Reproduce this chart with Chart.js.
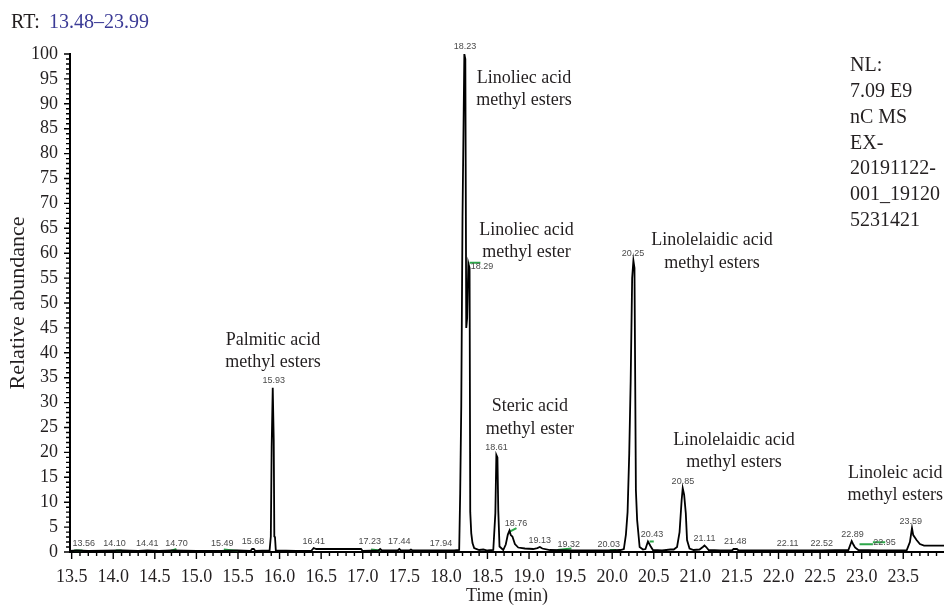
<!DOCTYPE html>
<html>
<head>
<meta charset="utf-8">
<script src="https://cdn.jsdelivr.net/npm/chart.js@4.4.0/dist/chart.umd.min.js"></script>
<style>
  html, body { margin: 0; padding: 0; background: #fff; }
  #wrap { width: 944px; height: 605px; }
</style>
</head>
<body>
<div id="wrap"><canvas id="chromChart" width="944" height="605"></canvas></div>
<script>
// chromatogram trace: retention time (min) / relative abundance (%)
const retentionTimes = [
  13.48, 13.56, 13.70, 14.10, 14.30, 14.41, 14.55, 14.70, 15.00, 15.30, 15.49, 15.65, 15.67, 15.69, 15.71,
  15.88, 15.895, 15.905, 15.918, 15.93, 15.937, 15.945, 15.955,
  16.20, 16.38, 16.41, 16.44, 16.70, 16.98, 17.00, 17.19, 17.21, 17.23, 17.42, 17.44, 17.46, 17.56, 17.58, 17.60,
  17.94, 18.10, 18.160, 18.172, 18.185, 18.200, 18.222, 18.234, 18.245, 18.256, 18.270, 18.285, 18.293, 18.305,
  18.320, 18.340, 18.40, 18.45, 18.50, 18.57, 18.595, 18.607, 18.620, 18.630, 18.645,
  18.69, 18.72, 18.745, 18.765, 18.78, 18.80, 18.83, 18.87, 18.95, 19.05, 19.10, 19.13, 19.16, 19.25, 19.50,
  20.00, 20.10, 20.14, 20.165, 20.185, 20.205, 20.222, 20.240, 20.255, 20.268, 20.285, 20.30, 20.33, 20.37,
  20.40, 20.43, 20.46, 20.49, 20.60, 20.70, 20.74, 20.78, 20.81, 20.835, 20.848, 20.865, 20.885, 20.90, 20.93,
  20.98, 21.05, 21.09, 21.11, 21.13, 21.16, 21.30, 21.44, 21.46, 21.50, 21.52, 21.80, 22.11, 22.52,
  22.84, 22.88, 22.90, 22.92, 22.96, 23.20, 23.54, 23.58, 23.605, 23.62, 23.66, 23.70, 23.75, 23.99
];
const abundance = [
  0.2, 0.3, 0.2, 0.3, 0.2, 0.3, 0.2, 0.3, 0.2, 0.2, 0.3, 0.2, 0.6, 0.6, 0.2,
  0.3, 3.1, 21, 33, 22.5, 3.1, 3.0, 0.3,
  0.2, 0.2, 0.8, 0.6, 0.6, 0.6, 0.2, 0.3, 0.6, 0.3, 0.3, 0.6, 0.3, 0.3, 0.5, 0.3,
  0.3, 0.3, 0.4, 11.8, 29.2, 67.3, 100, 99, 45, 47, 58, 57, 8, 3.8,
  1.8, 0.8, 0.4, 0.5, 0.3, 0.4, 7.8, 19.5, 19, 8.4, 1.1,
  0.4, 1.5, 3.5, 4.3, 3.4, 3.1, 1.6, 0.9, 0.7, 0.6, 0.8, 1.0, 0.7, 0.4, 0.3,
  0.3, 0.4, 0.6, 3.5, 8, 19.8, 34.2, 55, 58.5, 57, 12.4, 6.4, 1.0, 0.5,
  0.6, 2.1, 1.2, 0.4, 0.3, 0.5, 0.5, 1.0, 4.0, 10.4, 12.8, 11.5, 7.8, 2.4, 0.7,
  0.4, 0.5, 1.0, 1.3, 1.0, 0.4, 0.3, 0.3, 0.6, 0.6, 0.3, 0.3, 0.3, 0.3,
  0.4, 2.2, 1.5, 0.9, 0.4, 0.3, 0.3, 2.0, 4.8, 3.4, 2.4, 1.6, 1.3, 1.3
];

// green integration marks: start / end time and level at each end
const greenFrom = [13.53, 14.03, 14.69, 15.33, 17.10, 18.285, 18.768, 19.34, 19.97, 20.45, 22.974, 23.135];
const greenTo = [13.63, 14.10, 14.76, 15.50, 17.21, 18.415, 18.849, 19.51, 20.05, 20.50, 23.135, 23.283];
const greenFromLevel = [0.3, 0.3, 0.2, 0.5, 0.5, 58.1, 4.1, 0.4, 0.4, 2.1, 1.55, 1.95];
const greenToLevel = [0.3, 0.3, 0.6, 0.2, 0.3, 58.1, 4.8, 0.7, 0.4, 2.1, 1.55, 1.95];

const peakLabels = ['13.56', '14.10', '14.41', '14.70', '15.49', '15.68', '15.93', '16.41', '17.23', '17.44',
  '17.94', '18.23', '18.29', '18.61', '18.76', '19.13', '19.32', '20.03', '20.25', '20.43', '20.85', '21.11',
  '21.48', '22.11', '22.52', '22.89', '22.95', '23.59'];

const compoundNames = [
  ['Palmitic acid', 'methyl esters'],
  ['Linoliec acid', 'methyl esters'],
  ['Linoliec acid', 'methyl ester'],
  ['Steric acid', 'methyl ester'],
  ['Linolelaidic acid', 'methyl esters'],
  ['Linolelaidic acid', 'methyl esters'],
  ['Linoleic acid', 'methyl esters']
];

const xTickLabels = ['13.5', '14.0', '14.5', '15.0', '15.5', '16.0', '16.5', '17.0', '17.5', '18.0', '18.5',
  '19.0', '19.5', '20.0', '20.5', '21.0', '21.5', '22.0', '22.5', '23.0', '23.5'];
const yTickLabels = ['0', '5', '10', '15', '20', '25', '30', '35', '40', '45', '50', '55', '60', '65', '70',
  '75', '80', '85', '90', '95', '100'];

const rtRange = '13.48–23.99';
const nlInfo = ['NL:', '7.09 E9', 'nC MS', 'EX-', '20191122-', '001_19120', '5231421'];

const serif = '"Liberation Serif", "DejaVu Serif", serif';
const textDark = '#231f20';

// where the compound names sit (data coords of the first line's centre)
const noteSpots = [[15.92, 42.6], [18.94, 95.2], [18.97, 64.7], [19.01, 29.2], [21.20, 62.5], [21.465, 22.5], [23.404, 15.9]];
// sideways shift (px) for peak labels that are not centred on their peak
const labelShift = { '13.56': 7, '14.10': -7, '14.70': 5, '15.49': -15, '17.23': -12, '18.29': 12,
  '18.76': 7, '19.32': 13, '20.03': -6, '20.43': 4, '22.95': 27 };

function peakTop(rt) {
  let best = 0;
  retentionTimes.forEach((t, i) => {
    if (Math.abs(t - rt) <= 0.025 && abundance[i] > best) best = abundance[i];
  });
  return best;
}

const greenPoints = [];
greenFrom.forEach((t, i) => {
  greenPoints.push({ x: t, y: greenFromLevel[i] });
  greenPoints.push({ x: greenTo[i], y: greenToLevel[i] });
  greenPoints.push({ x: greenTo[i], y: null });
});

// tick marks: long at labelled ticks, short otherwise
const tickMarks = {
  id: 'tickMarks',
  afterDraw(chart) {
    const { ctx, scales: { x, y } } = chart;
    ctx.save();
    ctx.strokeStyle = '#000';
    ctx.lineWidth = 1.4;
    ctx.beginPath();
    x.ticks.forEach(t => {
      const px = x.getPixelForValue(t.value);
      const len = t.label ? 7 : 4;
      ctx.moveTo(px, x.top);
      ctx.lineTo(px, x.top + len);
    });
    y.ticks.forEach(t => {
      const py = y.getPixelForValue(t.value);
      const len = t.label ? 6 : 4;
      ctx.moveTo(y.right, py);
      ctx.lineTo(y.right - len, py);
    });
    ctx.stroke();
    ctx.restore();
  }
};

const chromNotes = {
  id: 'chromNotes',
  afterDatasetsDraw(chart) {
    const { ctx, scales: { x, y } } = chart;
    ctx.save();

    // RT range header
    ctx.font = '20px ' + serif;
    ctx.textAlign = 'left';
    ctx.textBaseline = 'alphabetic';
    ctx.fillStyle = textDark;
    ctx.fillText('RT:', 11, 28);
    ctx.fillStyle = '#3b3b96';
    ctx.fillText(rtRange, 49, 28);

    // NL block
    ctx.fillStyle = textDark;
    ctx.font = '20px ' + serif;
    ctx.textBaseline = 'middle';
    nlInfo.forEach((line, i) => ctx.fillText(line, 850, 66 + i * 25.8));

    // compound names
    ctx.font = '18px ' + serif;
    ctx.textAlign = 'center';
    compoundNames.forEach((lines, i) => {
      const cx = x.getPixelForValue(noteSpots[i][0]);
      const cy = y.getPixelForValue(noteSpots[i][1]);
      lines.forEach((line, j) => ctx.fillText(line, cx, cy + j * 22.5));
    });

    // small retention time labels above each peak
    ctx.font = '9px "Liberation Sans", Arial, sans-serif';
    ctx.fillStyle = '#4a4a4a';
    peakLabels.forEach(lbl => {
      const rt = parseFloat(lbl);
      const px = x.getPixelForValue(rt) + (labelShift[lbl] || 0);
      let py = y.getPixelForValue(peakTop(rt)) - 7;
      if (lbl === '18.29') py += 10;
      ctx.fillText(lbl, px, py);
    });
    ctx.restore();
  }
};

const ctx = document.getElementById('chromChart').getContext('2d');
const chart = new Chart(ctx, {
  type: 'scatter',
  data: {
    datasets: [{
      label: 'TIC',
      data: retentionTimes.map((t, i) => ({ x: t, y: abundance[i] })),
      showLine: true,
      borderColor: '#000',
      borderWidth: 1.8,
      pointRadius: 0,
      tension: 0
    }, {
      label: 'integration',
      data: greenPoints,
      showLine: true,
      spanGaps: false,
      borderColor: '#2ea64a',
      borderWidth: 2,
      pointRadius: 0,
      tension: 0
    }]
  },
  options: {
    responsive: false,
    animation: false,
    layout: { padding: { top: 54, right: 0, bottom: 0, left: 0 } },
    plugins: { legend: { display: false }, tooltip: { enabled: false } },
    scales: {
      x: {
        type: 'linear',
        min: 13.48,
        max: 23.99,
        afterBuildTicks(scale) {
          const ticks = [];
          for (let i = 0; i <= 104; i++) ticks.push({ value: Math.round((13.5 + i * 0.1) * 10) / 10 });
          scale.ticks = ticks;
        },
        afterFit(scale) { scale.height = 53; },
        grid: { drawOnChartArea: false, drawTicks: true, tickLength: 7, tickColor: 'rgba(0,0,0,0)' },
        border: { display: true, color: '#000', width: 2 },
        ticks: {
          autoSkip: false,
          maxRotation: 0,
          padding: 7,
          color: textDark,
          font: { family: serif, size: 18 },
          callback: v => {
            const s = Number(v).toFixed(1);
            return xTickLabels.includes(s) ? s : '';
          }
        },
        title: {
          display: true,
          text: 'Time (min)',
          color: textDark,
          font: { family: serif, size: 18, lineHeight: 1 },
          padding: { top: 0, bottom: 0 }
        }
      },
      y: {
        min: 0,
        max: 100,
        afterBuildTicks(scale) {
          const ticks = [];
          for (let i = 0; i <= 100; i++) ticks.push({ value: i });
          scale.ticks = ticks;
        },
        afterFit(scale) { scale.width = 70; },
        grid: { drawOnChartArea: false, drawTicks: true, tickLength: 6, tickColor: 'rgba(0,0,0,0)' },
        border: { display: true, color: '#000', width: 2 },
        ticks: {
          autoSkip: false,
          padding: 6,
          color: textDark,
          font: { family: serif, size: 18 },
          callback: v => (yTickLabels.includes(String(v)) ? String(v) : '')
        },
        title: {
          display: true,
          text: 'Relative abundance',
          color: textDark,
          font: { family: serif, size: 22, lineHeight: 1 },
          padding: { top: 7, bottom: 0 }
        }
      }
    }
  },
  plugins: [tickMarks, chromNotes]
});
</script>
</body>
</html>
